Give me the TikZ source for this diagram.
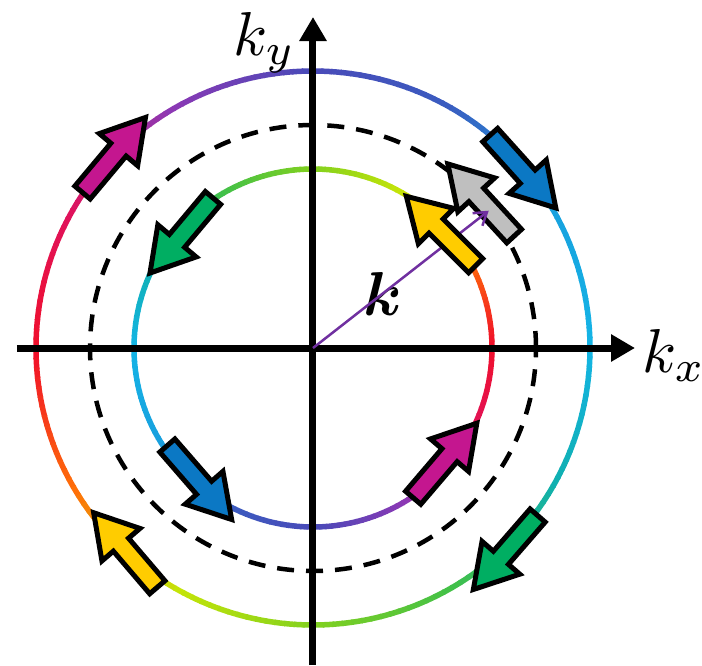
\documentclass[tikz,border=0pt]{standalone}
\usepackage{amsmath}
\usepackage{tikz}
\usetikzlibrary{arrows.meta}
\definecolor{spinmagenta}{HTML}{C4168F}
\definecolor{spinblue}{HTML}{0B78C4}
\definecolor{spingreen}{HTML}{00AE62}
\definecolor{spinyellow}{HTML}{FFCC00}
\definecolor{spingray}{HTML}{BFBFBF}
\definecolor{kpurple}{HTML}{7030A0}
% ring colour stops, every 30 degrees of the outer ring
\definecolor{ring0}{HTML}{14B4E6}
\definecolor{ring1}{HTML}{18A0DE}
\definecolor{ring2}{HTML}{3A5CC0}
\definecolor{ring3}{HTML}{4A4AB8}
\definecolor{ring4}{HTML}{8C38B4}
\definecolor{ring5}{HTML}{E0125C}
\definecolor{ring6}{HTML}{F0102A}
\definecolor{ring7}{HTML}{FF7008}
\definecolor{ring8}{HTML}{C4E408}
\definecolor{ring9}{HTML}{80D020}
\definecolor{ring10}{HTML}{40C04A}
\definecolor{ring11}{HTML}{10B0B0}
\definecolor{ring12}{HTML}{14B4E6}
\newcommand{\setringcol}[1]{%
  \pgfmathtruncatemacro{\ringi}{#1/30}%
  \pgfmathtruncatemacro{\ringj}{\ringi+1}%
  \pgfmathsetmacro{\ringp}{100*(#1-30*\ringi)/30}%
  \colorlet{arccol}{ring\ringj!\ringp!ring\ringi}}

\begin{document}
\begin{tikzpicture}[x=1pt,y=1pt,
  spinarrow/.pic={\draw[line width=5pt,line join=miter,fill] (-49,-10) -- (7,-10) -- (7,-25) -- (49,0) -- (7,25) -- (7,10) -- (-49,10) -- cycle;},
  kaxis/.style={line width=7pt,-{Triangle[length=24pt,width=26pt]}},
  axlabel/.style={scale=6.2,anchor=base west,inner sep=0pt}]
\useasboundingbox (-313,-317) rectangle (389,348);
% colour wheel rings
\foreach \a in {0,2,...,358}{
  \setringcol{\a}
  \draw[arccol,line width=5.5pt] (\a:277) arc[start angle=\a,delta angle=2.3,radius=277pt];
  \pgfmathtruncatemacro{\b}{mod(\a+180,360)}
  \setringcol{\b}
  \draw[arccol,line width=5.5pt] (\a:179) arc[start angle=\a,delta angle=2.3,radius=179pt];
}
\draw[line width=4.5pt,dash pattern=on 17pt off 12pt] (0,0) circle[radius=223pt];
% axes
\coordinate (O) at (0,0);
\coordinate (xl) at (-296,0);
\coordinate (xr) at (322,0);
\coordinate (yb) at (0,-317);
\coordinate (yt) at (0,331);
\draw[kaxis] (xl) -- (xr);
\draw[kaxis] (yb) -- (yt);
\node[axlabel] (ky) at (-81,293) {$k_y$};
\node[axlabel] (kx) at (328,-24) {$k_x$};
\node[axlabel] (klab) at (49,33) {$\boldsymbol{k}$};
% spins
\pic[rotate=132.6,fill=spingray] at (168,148) {spinarrow};
\coordinate (kend) at (38:223);
\draw[kpurple,line width=2.5pt,-{Straight Barb[length=12pt,width=16pt]}] (O) -- (kend);
\pic[rotate=50,fill=spinmagenta] at (-199,193) {spinarrow};
\pic[rotate=-48,fill=spinblue] at (210,176.5) {spinarrow};
\pic[rotate=229,fill=spingreen] at (192.5,-204.5) {spinarrow};
\pic[rotate=130.5,fill=spinyellow] at (-187.5,-202) {spinarrow};
\pic[rotate=230,fill=spingreen] at (-131.5,112.5) {spinarrow};
\pic[rotate=135,fill=spinyellow] at (128,117) {spinarrow};
\pic[rotate=49.5,fill=spinmagenta] at (132,-112.5) {spinarrow};
\pic[rotate=-49,fill=spinblue] at (-113.5,-134.5) {spinarrow};
\end{tikzpicture}
\end{document}
